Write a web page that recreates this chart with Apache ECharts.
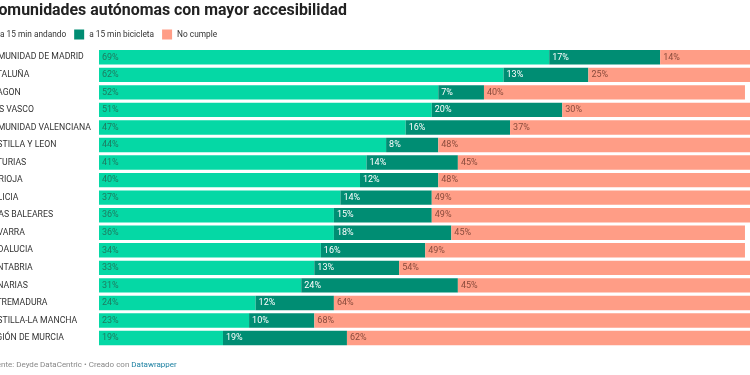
<!DOCTYPE html>
<html>
<head>
<meta charset="utf-8">
<script src="https://cdn.jsdelivr.net/npm/echarts@6/dist/echarts.min.js"></script>
<style>
html,body{margin:0;padding:0;background:#fff;}
#c{width:750px;height:375px;}
</style>
</head>
<body>
<div id="c"></div>
<script>
const categories = ['COMUNIDAD DE MADRID','CATALUÑA','ARAGON','PAIS VASCO','COMUNIDAD VALENCIANA','CASTILLA Y LEON','ASTURIAS','LA RIOJA','GALICIA','ISLAS BALEARES','NAVARRA','ANDALUCIA','CANTABRIA','CANARIAS','EXTREMADURA','CASTILLA-LA MANCHA','REGIÓN DE MURCIA'];
const andando = [69,62,52,51,47,44,41,40,37,36,36,34,33,31,24,23,19];
const bicicleta = [17,13,7,20,16,8,14,12,14,15,18,16,13,24,12,10,19];
const noCumple = [14,25,40,30,37,48,45,48,49,49,45,49,54,45,64,68,62];
const seriesNames = ['a 15 min andando','a 15 min bicicleta','No cumple'];

const FONT = 'Roboto';
const chart = echarts.init(document.getElementById('c'), null, {renderer:'canvas'});
function mk(name, data, color, labelColor){
  return {
    name: name, type:'bar', stack:'total', data: data,
    barCategoryGap:'18%',
    itemStyle:{color: color},
    label:{show:true, position:'insideLeft', distance:3, formatter:'{c}%',
      color: labelColor, fontSize:9, fontFamily:FONT},
    emphasis:{disabled:true}
  };
}
chart.setOption({
  animation:false,
  textStyle:{fontFamily:FONT},
  title:{text:'Comunidades autónomas con mayor accesibilidad', left:-12, top:3.5, padding:0,
    textStyle:{fontSize:15.9, fontWeight:'bold', color:'#222', fontFamily:FONT}},
  legend:{left:-15, top:29.5, padding:0, itemWidth:10, itemHeight:10, itemGap:8, icon:'rect',
    textStyle:{fontSize:8.3, color:'#333', fontFamily:FONT}, data: seriesNames},
  grid:{left:99, top:48.5, width:652.5, height:298.3, outerBoundsMode:'none', containLabel:false},
  xAxis:{type:'value', min:0, max:100, show:false},
  yAxis:{type:'category', data:categories, inverse:true,
    axisLine:{show:false}, axisTick:{show:false},
    axisLabel:{align:'left', margin:113, fontSize:8.7, color:'#333', fontFamily:FONT}},
  graphic:[{type:'text', left:-12, top:361,
    style:{text:'{a|Fuente: Deyde DataCentric • Creado con }{b|Datawrapper}',
      rich:{a:{fontSize:8, fill:'#888', fontFamily:FONT}, b:{fontSize:8, fill:'#1d81a2', fontFamily:FONT}}}}],
  series:[
    mk(seriesNames[0], andando, '#05d8a5', '#1f7a60'),
    mk(seriesNames[1], bicicleta, '#008d73', '#ffffff'),
    mk(seriesNames[2], noCumple, '#ff9d86', '#8a4b3c')
  ]
});
</script>
</body>
</html>
